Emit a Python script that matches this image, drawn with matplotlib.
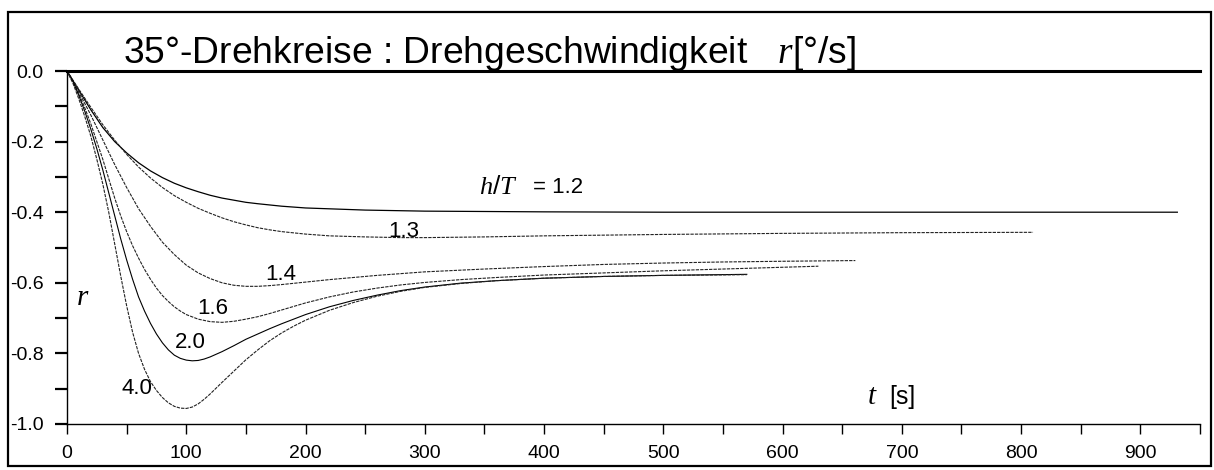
import matplotlib
matplotlib.use("Agg")
import matplotlib.pyplot as plt
from matplotlib.patches import Rectangle
from matplotlib.ticker import MultipleLocator

plt.rcParams['font.family'] = ['Liberation Sans', 'DejaVu Sans']
plt.rcParams['mathtext.fontset'] = 'custom'
plt.rcParams['mathtext.it'] = 'Liberation Serif:italic'
plt.rcParams['mathtext.rm'] = 'Liberation Sans'

# ---- data ----
t_12 = [0, 10, 20, 30, 40, 50, 60, 70, 80, 90, 100, 110, 120, 130, 140, 150, 160, 180, 200, 250, 300, 400, 500,
        600, 700, 800, 931]
r_12 = [0, -0.055, -0.11, -0.16, -0.2, -0.232, -0.26, -0.283, -0.302, -0.318, -0.331, -0.342, -0.352, -0.36,
        -0.366, -0.372, -0.376, -0.383, -0.388, -0.394, -0.397, -0.399, -0.4, -0.4, -0.4, -0.4, -0.4]

t_13 = [0, 10, 20, 30, 40, 50, 60, 70, 80, 90, 100, 110, 120, 130, 140, 150, 160, 170, 180, 200, 220, 250, 280,
        300, 350, 400, 500, 600, 700, 810]
r_13 = [0, -0.052, -0.103, -0.152, -0.196, -0.236, -0.272, -0.303, -0.33, -0.353, -0.372, -0.389, -0.403, -0.416,
        -0.427, -0.436, -0.444, -0.45, -0.455, -0.462, -0.467, -0.47, -0.472, -0.472, -0.47, -0.467, -0.463, -0.46,
        -0.458, -0.457]

t_14 = [0, 10, 20, 30, 40, 50, 60, 70, 80, 90, 100, 110, 120, 130, 140, 150, 160, 170, 180, 200, 220, 240, 260,
        280, 300, 350, 400, 450, 500, 550, 600, 661]
r_14 = [0, -0.06, -0.125, -0.195, -0.265, -0.33, -0.39, -0.44, -0.485, -0.52, -0.55, -0.572, -0.588, -0.6,
        -0.607, -0.61, -0.61, -0.608, -0.605, -0.598, -0.591, -0.585, -0.579, -0.574, -0.569, -0.561, -0.554,
        -0.548, -0.544, -0.541, -0.539, -0.537]

t_16 = [0, 5, 10, 15, 20, 25, 30, 35, 40, 45, 50, 55, 60, 65, 70, 75, 80, 85, 90, 95, 100, 110, 120, 130, 140,
        150, 160, 170, 180, 190, 200, 220, 240, 260, 280, 300, 330, 360, 400, 450, 500, 550, 630]
r_16 = [0, -0.03, -0.065, -0.105, -0.15, -0.2, -0.25, -0.305, -0.36, -0.41, -0.455, -0.495, -0.53, -0.562,
        -0.59, -0.615, -0.636, -0.653, -0.668, -0.68, -0.69, -0.703, -0.71, -0.712, -0.709, -0.703, -0.696, -0.687,
        -0.677, -0.667, -0.657, -0.64, -0.626, -0.615, -0.606, -0.599, -0.591, -0.585, -0.578, -0.572, -0.566,
        -0.561, -0.553]

t_20 = [0, 5, 10, 15, 20, 25, 30, 35, 40, 45, 50, 55, 60, 65, 70, 75, 80, 85, 90, 95, 100, 105, 110, 115, 120,
        130, 140, 150, 160, 170, 180, 190, 200, 220, 240, 260, 280, 300, 330, 360, 400, 450, 500, 570]
r_20 = [0, -0.03, -0.07, -0.115, -0.165, -0.22, -0.28, -0.345, -0.41, -0.475, -0.535, -0.59, -0.64, -0.68,
        -0.715, -0.745, -0.77, -0.79, -0.805, -0.814, -0.819, -0.821, -0.82, -0.816, -0.81, -0.795, -0.778, -0.76,
        -0.745, -0.73, -0.716, -0.703, -0.69, -0.668, -0.65, -0.635, -0.622, -0.612, -0.601, -0.594, -0.587,
        -0.582, -0.579, -0.576]

t_40 = [0, 5, 10, 15, 20, 25, 30, 35, 40, 45, 50, 55, 60, 65, 70, 75, 80, 85, 90, 95, 100, 105, 110, 115, 120,
        130, 140, 150, 160, 170, 180, 190, 200, 220, 240, 260, 280, 300, 330, 360, 400, 450, 500, 570]
r_40 = [0, -0.035, -0.08, -0.13, -0.185, -0.25, -0.32, -0.40, -0.49, -0.58, -0.665, -0.74, -0.80, -0.845,
        -0.88, -0.905, -0.925, -0.94, -0.95, -0.955, -0.956, -0.952, -0.943, -0.93, -0.915, -0.882, -0.85, -0.818,
        -0.79, -0.764, -0.742, -0.723, -0.706, -0.678, -0.656, -0.638, -0.624, -0.613, -0.602, -0.594, -0.587,
        -0.582, -0.579, -0.577]

labels = ["h/T = 1.2", "1.3", "1.4", "1.6", "2.0", "4.0"]
label_t = [362, 282, 179, 122, 103, 59]
label_r = [-0.328, -0.455, -0.576, -0.672, -0.768, -0.90]

x_major = list(range(0, 1000, 100))
y_major = [0.0, -0.2, -0.4, -0.6, -0.8, -1.0]
y_ticklabels = ["0.0", "-0.2", "-0.4", "-0.6", "-0.8", "-1.0"]

# ---- figure ----
fig = plt.figure(figsize=(12.14, 4.70), dpi=100)
ax = fig.add_axes([67 / 1214, 1 - 424 / 470, (1200 - 67) / 1214, (424 - 71) / 470])

dash = (0, (3, 1))
ax.plot(t_12, r_12, color='black', lw=0.9)
ax.plot(t_13, r_13, color='#222222', lw=0.8, linestyle=dash)
ax.plot(t_14, r_14, color='#222222', lw=0.8, linestyle=dash)
ax.plot(t_16, r_16, color='#222222', lw=0.8, linestyle=dash)
ax.plot(t_20, r_20, color='black', lw=0.8)
ax.plot(t_40, r_40, color='#222222', lw=0.8, linestyle=dash)

ax.set_xlim(0, 950)
ax.set_ylim(-1.0, 0.0)

ax.set_xticks(x_major)
ax.xaxis.set_minor_locator(MultipleLocator(50))
ax.set_yticks(y_major)
ax.set_yticklabels(y_ticklabels)
ax.yaxis.set_minor_locator(MultipleLocator(0.1))

ax.tick_params(axis='y', which='both', direction='out', length=9, width=1.6, labelsize=14, pad=8)
ax.tick_params(axis='x', which='both', direction='out', length=7, width=1.0, labelsize=14, pad=8)

ax.spines['right'].set_visible(False)
ax.spines['top'].set_linewidth(2.2)
ax.spines['left'].set_linewidth(1.0)
ax.spines['bottom'].set_linewidth(1.0)

# curve labels
ax.text(label_t[0], label_r[0], r"$\mathit{h/T}$", fontsize=19, ha='center', va='center')
ax.text(label_t[0] + 50, label_r[0] - 0.003, "= 1.2", fontsize=16, ha='center', va='center')
for lab, tx, ry in zip(labels[1:], label_t[1:], label_r[1:]):
    ax.text(tx, ry, lab, fontsize=16, ha='center', va='center')

# axis labels inside the axes
ax.text(0.014, 0.36, r"$r$", transform=ax.transAxes, fontsize=21, ha='center', va='center')
ax.text(0.711, 0.08, r"$t$", transform=ax.transAxes, fontsize=21, ha='center', va='center')
ax.text(0.737, 0.077, "[s]", transform=ax.transAxes, fontsize=18, ha='center', va='center')

# title
fig.text(123 / 1214, 1 - 63 / 470, "35°-Drehkreise : Drehgeschwindigkeit   $r$[°/s]",
         fontsize=26.8, ha='left', va='baseline')

# outer frame
fig.patches.append(Rectangle((8 / 1214, 1 - 466 / 470), (1211 - 8) / 1214, (466 - 12) / 470,
                             transform=fig.transFigure, fill=False, lw=1.6, edgecolor='black'))

fig.savefig("out.png", dpi=100)
